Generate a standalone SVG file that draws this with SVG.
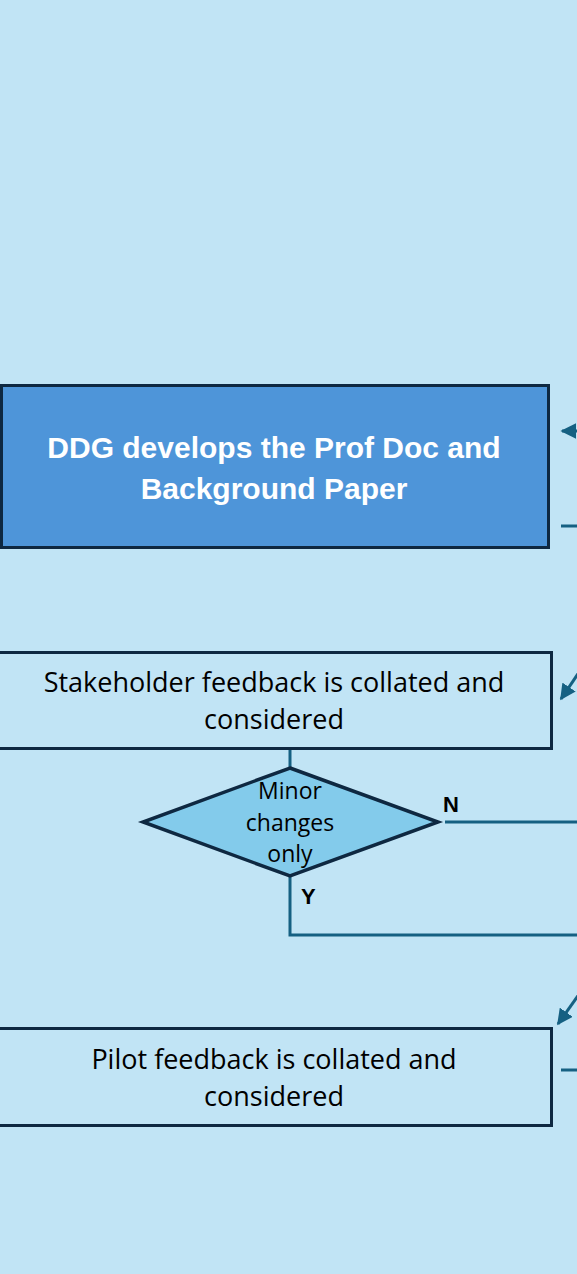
<svg xmlns="http://www.w3.org/2000/svg" width="577" height="1274" viewBox="0 0 577 1274">
<style>
.box{fill:#C1E4F5;stroke:#0E2841;stroke-width:3}
.main{fill:#4E95D9;stroke:#0E2841;stroke-width:3}
.dia{fill:#83CBEB;stroke:#0E2841;stroke-width:3.5}
.con{fill:none;stroke:#156082;stroke-width:3}
.t{font-family:"Open Sans","Liberation Sans",sans-serif;font-size:27px;fill:#000;text-anchor:middle}
.tb{font-family:"Liberation Sans",Arial,sans-serif;font-size:30px;font-weight:bold;fill:#fff;text-anchor:middle}
.td{font-family:"Open Sans","Liberation Sans",sans-serif;font-size:23px;fill:#000;text-anchor:middle}
.lbl{font-family:"Liberation Sans",Arial,sans-serif;font-size:22px;font-weight:bold;fill:#000}
</style>
<defs>
<marker id="ah" viewBox="0 0 10 10" refX="9" refY="5" markerUnits="userSpaceOnUse" markerWidth="16" markerHeight="16" orient="auto">
<path d="M0,0 L10,5 L0,10 z" fill="#156082"/>
</marker>
</defs>
<rect x="0" y="0" width="577" height="1274" fill="#C1E4F5"/>
<g id="connectors">
<line class="con" x1="580" y1="431" x2="562" y2="431" marker-end="url(#ah)"/>
<line class="con" x1="561" y1="526" x2="580" y2="526"/>
<line class="con" x1="594" y1="650" x2="561" y2="699" marker-end="url(#ah)"/>
<line class="con" x1="290" y1="749" x2="290" y2="769"/>
<line class="con" x1="445" y1="822" x2="580" y2="822"/>
<polyline class="con" points="290,876 290,935 580,935"/>
<line class="con" x1="597" y1="969" x2="558" y2="1024" marker-end="url(#ah)"/>
<line class="con" x1="561" y1="1070" x2="580" y2="1070"/>
</g>
<g id="node-ddg">
<rect class="main" x="1.5" y="385.5" width="547" height="162"/>
<text class="tb" x="274" y="458">DDG develops the Prof Doc and</text>
<text class="tb" x="274" y="499">Background Paper</text>
</g>
<g id="node-stakeholder">
<rect class="box" x="-10" y="652.5" width="561.5" height="96"/>
<text class="t" x="274" y="692">Stakeholder feedback is collated and</text>
<text class="t" x="274" y="729">considered</text>
</g>
<g id="node-decision">
<polygon class="dia" points="290,768 438,822 290,876 143,822"/>
<text class="td" x="290" y="799">Minor</text>
<text class="td" x="290" y="831">changes</text>
<text class="td" x="290" y="862">only</text>
</g>
<g id="labels">
<text class="lbl" x="443" y="812">N</text>
<text class="lbl" x="301" y="904">Y</text>
</g>
<g id="node-pilot">
<rect class="box" x="-10" y="1028.5" width="561.5" height="97"/>
<text class="t" x="274" y="1069">Pilot feedback is collated and</text>
<text class="t" x="274" y="1106">considered</text>
</g>
</svg>
